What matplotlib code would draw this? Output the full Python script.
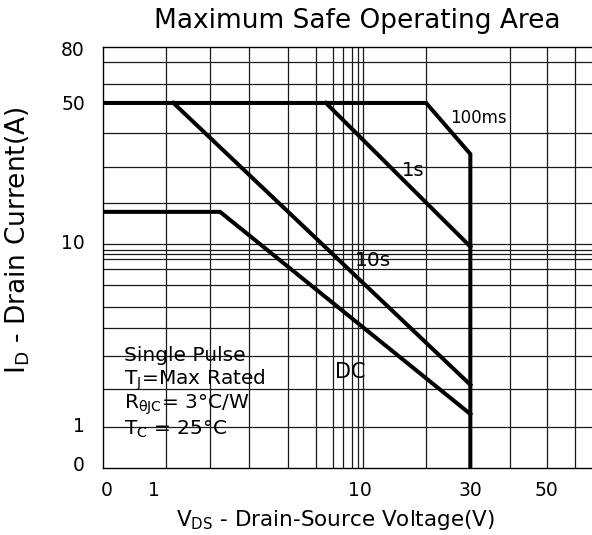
import numpy as np
import matplotlib.pyplot as plt
from matplotlib.ticker import NullFormatter

plt.rcParams['font.family'] = ['DejaVu Sans']
plt.rcParams['mathtext.default'] = 'regular'

# SOA limit curves (V, A)
v_100ms = [0.768, 19.3, 30, 30]
i_100ms = [50, 50, 27.8, 0.75]
v_1s = [7.1, 30]
i_1s = [50, 9.59]
v_10s = [1.55, 30]
i_10s = [50, 1.96]
v_dc = [0.768, 2.47, 30]
i_dc = [14.3, 14.3, 1.40]

# chart grid
x_grid = [1.445, 2.23, 3.29, 4.87, 6.43, 7.60, 8.41, 9.20, 9.75, 10.23,
          19.28, 30.0, 44.5, 64.5, 85.6]
y_grid = [79.8, 62.2, 50, 35.5, 24.0, 15.8, 9.88, 9.23, 8.76, 8.29, 7.39,
          6.17, 4.81, 3.78, 2.73, 1.86, 1.20]

# axis labels as printed
x_tick_pos = [0.80, 1.28, 10, 30, 64]
x_tick_lab = ['0', '1', '10', '30', '50']
y_tick_pos = [94.0, 50, 10.2, 1.24, 0.79]
y_tick_lab = ['80', '50', '10', '1', '0']

fig = plt.figure(figsize=(5.92, 5.35), dpi=100)
ax = fig.add_axes([103/592, 1-468.3/535, 1-103/592, (468.3-47.3)/535])
ax.set_xscale('log')
ax.set_yscale('log')
ax.set_xlim(0.768, 101)
ax.set_ylim(0.75, 94.8)

ax.set_xticks(x_grid, minor=True)
ax.set_yticks(y_grid, minor=True)
ax.xaxis.set_minor_formatter(NullFormatter())
ax.yaxis.set_minor_formatter(NullFormatter())
ax.set_xticks(x_tick_pos)
ax.set_xticklabels(x_tick_lab)
ax.set_yticks(y_tick_pos)
ax.set_yticklabels(y_tick_lab)
ax.tick_params(which='both', length=0)
ax.tick_params(axis='x', pad=9, labelsize=13.5)
ax.tick_params(axis='y', pad=13, labelsize=13.5)
ax.grid(False, which='major')
ax.grid(True, which='minor', color='#1a1a1a', lw=0.9)
for s in ['left', 'bottom', 'top']:
    ax.spines[s].set_linewidth(1.0)
ax.spines['right'].set_visible(False)

lw = 2.9
ax.plot(v_100ms, i_100ms, color='k', lw=lw, solid_joinstyle='miter')
ax.plot(v_1s, i_1s, color='k', lw=lw)
ax.plot(v_10s, i_10s, color='k', lw=lw)
ax.plot(v_dc, i_dc, color='k', lw=lw, solid_joinstyle='miter')

ax.text(32.5, 42.1, '100ms', fontsize=12, ha='center', va='center')
ax.text(16.97, 23.1, '1s', fontsize=14, ha='center', va='center')
ax.text(11.4, 8.22, '10s', fontsize=14.5, ha='center', va='center')
ax.text(9.05, 2.27, 'DC', fontsize=15, ha='center', va='center')

notes = ['Single Pulse', r'T$_J$=Max Rated', r'R$_{θJC}$= 3°C/W', r'T$_C$ = 25°C']
note_y = [2.73, 2.07, 1.55, 1.17]
for t, y in zip(notes, note_y):
    ax.text(0.948, y, t, fontsize=14.5, ha='left', va='center')

fig.text(357/592, 1-21/535, 'Maximum Safe Operating Area', fontsize=19,
         ha='center', va='center')
fig.text(336/592, 1-520/535, r'V$_{DS}$ - Drain-Source Voltage(V)',
         fontsize=15.5, ha='center', va='center')
fig.text(18/592, 1-240/535, r'I$_D$ - Drain Current(A)', fontsize=19,
         ha='center', va='center', rotation=90)

fig.savefig('out.png', dpi=100)
